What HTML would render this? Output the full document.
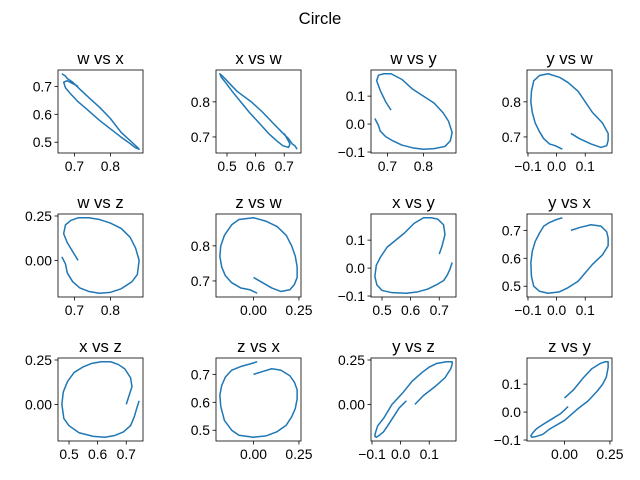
<!DOCTYPE html>
<html><head><meta charset="utf-8"><style>
body{margin:0;background:#fff}
svg{display:block;font-family:"Liberation Sans","DejaVu Sans",sans-serif}
</style></head><body>
<svg id="fig" width="640" height="480">
<text x="320" y="24" text-anchor="middle" font-size="16.7">Circle</text>
</svg>
<script>
const wVals=[.71,.695,.68,.67,.675,.69,.71,.74,.77,.80,.83,.855,.87,.88,.875,.86,.83,.80,.77,.74,.715,.695,.68,.675,.665];
const xVals=[.70,.71,.72,.715,.695,.672,.645,.612,.578,.548,.518,.495,.48,.475,.482,.50,.535,.585,.625,.66,.69,.715,.728,.737,.745];
const yVals=[.05,.08,.12,.155,.175,.18,.18,.16,.125,.10,.075,.04,.01,-.03,-.06,-.08,-.088,-.09,-.085,-.075,-.06,-.045,-.025,-.005,.02];
const zVals=[.00,.05,.10,.15,.20,.225,.24,.24,.23,.21,.18,.13,.07,.00,-.08,-.12,-.16,-.18,-.185,-.175,-.155,-.12,-.07,-.02,.02];
const series={w:wVals,x:xVals,y:yVals,z:zVals};
const ticks={w:[0.7,0.8],x:[0.5,0.6,0.7],y:[-0.1,0,0.1],z:[0,0.25]};
const decimals={w:1,x:1,y:1,z:2};
const panels=[['w','x'],['x','w'],['w','y'],['y','w'],['w','z'],['z','w'],['x','y'],['y','x'],['x','z'],['z','x'],['y','z'],['z','y']];
const colX=[58,216,371,527], rowY=[70,214,358], PW=85, PH=83;
const NS='http://www.w3.org/2000/svg', svg=document.getElementById('fig');
function mk(t,a,p){const e=document.createElementNS(NS,t);for(const k in a)e.setAttribute(k,a[k]);(p||svg).appendChild(e);return e;}
function fmt(v,d){const s=Math.abs(v).toFixed(d);return (v<-1e-9?'\u2212':'')+s;}
function range(arr){const mn=Math.min(...arr),mx=Math.max(...arr),p=(mx-mn)*0.05;return [mn-p,mx+p];}
panels.forEach((pr,i)=>{
  const [a,b]=pr, X0=colX[i%4], Y0=rowY[Math.floor(i/4)];
  const g=mk('g',{});
  
  
  const [xa,xb]=range(series[a]), [ya,yb]=range(series[b]);
  const sx=v=>X0+(v-xa)/(xb-xa)*PW, sy=v=>Y0+PH-(v-ya)/(yb-ya)*PH;
  const t=mk('text',{x:X0+PW/2,y:Y0-6,'text-anchor':'middle','font-size':16.7},g);t.textContent=a+' vs '+b;
  
  
  ticks[a].forEach(v=>{const px=sx(v);if(px<X0-1||px>X0+PW+1)return;
    mk('line',{x1:px,x2:px,y1:Y0+PH,y2:Y0+PH+3.5,stroke:'#000','stroke-width':0.8},g);
    const l=mk('text',{x:px,y:Y0+PH+18,'text-anchor':'middle','font-size':13.9},g);l.textContent=fmt(v,decimals[a]);
    
    });
  ticks[b].forEach(v=>{const py=sy(v);if(py<Y0-1||py>Y0+PH+1)return;
    mk('line',{x1:X0-3.5,x2:X0,y1:py,y2:py,stroke:'#000','stroke-width':0.8},g);
    const l=mk('text',{x:X0-6,y:py+5,'text-anchor':'end','font-size':13.9},g);l.textContent=fmt(v,decimals[b]);
    
    });
  const pts=series[a].map((v,k)=>sx(v).toFixed(2)+','+sy(series[b][k]).toFixed(2)).join(' ');
  const pl=mk('polyline',{points:pts,fill:'none',stroke:'#1f77b4','stroke-width':1.5,'stroke-linejoin':'round'},g);
  
  
  const r=mk('rect',{x:X0,y:Y0,width:PW,height:PH,fill:'none',stroke:'#000','stroke-width':0.8},g);
  
  
});
</script>
</body></html>
